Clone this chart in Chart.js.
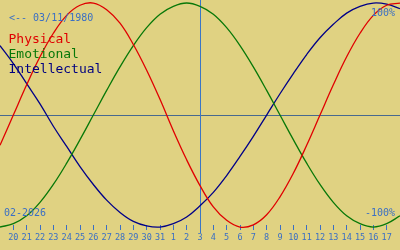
<!DOCTYPE html>
<html>
<head>
<meta charset="utf-8">
<script src="https://cdn.jsdelivr.net/npm/chart.js@4"></script>
<style>
  html, body { margin: 0; padding: 0; }
  body { width: 400px; height: 250px; background: #e0d282; overflow: hidden; }
  #wrap { position: relative; width: 400px; height: 250px; }
  .txt { position: absolute; font-family: "DejaVu Sans Mono", monospace; white-space: pre; }
</style>
</head>
<body>
<div id="wrap">
  <canvas id="bioChart" width="400" height="250"></canvas>
  <div class="txt" style="left:9px; top:12.5px; font-size:10px; line-height:10px; color:#3a6fc4;">&lt;-- 03/11/1980</div>
  <div class="txt" style="left:8.5px; top:32px; font-size:13px; line-height:13px; color:#e00000;">Physical</div>
  <div class="txt" style="left:8.5px; top:47px; font-size:13px; line-height:13px; color:#087808;">Emotional</div>
  <div class="txt" style="left:8.5px; top:62px; font-size:13px; line-height:13px; color:#000080;">Intellectual</div>
  <div class="txt" style="right:5px; top:7.5px; font-size:10px; line-height:10px; color:#3a6fc4;">100%</div>
  <div class="txt" style="right:5px; top:207.5px; font-size:10px; line-height:10px; color:#3a6fc4;">-100%</div>
  <div class="txt" style="left:4px; top:207.5px; font-size:10px; line-height:10px; color:#3a6fc4;">02-2026</div>
</div>
<script>
// dias mostrados (19 ene .. 18 feb)
const dias = ['19', '20', '21', '22', '23', '24', '25', '26', '27', '28', '29', '30', '31',
  '1', '2', '3', '4', '5', '6', '7', '8', '9', '10', '11', '12', '13', '14', '15', '16', '17', '18'];

// valores en %
const fisico = [-27, 0, 27, 52, 73, 89, 98, 100, 94, 82, 63, 40, 14, -14, -40, -63,
  -82, -94, -100, -98, -89, -73, -52, -27, 0, 27, 52, 73, 89, 98, 100];
const emocional = [-100, -97, -90, -78, -62, -43, -22, 0, 22, 43, 62, 78, 90, 97, 100, 97,
  90, 78, 62, 43, 22, 0, -22, -43, -62, -78, -90, -97, -100, -97, -90];
const intelectual = [62, 46, 28, 10, -10, -28, -46, -62, -76, -87, -95, -99, -100, -97, -91, -81,
  -69, -54, -37, -19, 0, 19, 37, 54, 69, 81, 91, 97, 100, 99, 95];

const hoy = 15; // indice del dia actual (3 feb)

const lineasGuia = {
  id: 'lineasGuia',
  beforeDatasetsDraw(chart) {
    const { ctx, scales: { x, y }, chartArea } = chart;
    ctx.save();
    ctx.lineWidth = 1;
    // linea del cero
    const y0 = Math.round(y.getPixelForValue(0)) + 0.5;
    ctx.strokeStyle = '#47698f';
    ctx.beginPath();
    ctx.moveTo(chartArea.left, y0);
    ctx.lineTo(chartArea.right, y0);
    ctx.stroke();
    // linea de hoy
    const xh = Math.round(x.getPixelForValue(hoy)) + 0.5;
    ctx.strokeStyle = '#3a76c6';
    ctx.beginPath();
    ctx.moveTo(xh, 0);
    ctx.lineTo(xh, chartArea.bottom + 8);
    ctx.stroke();
    ctx.restore();
  }
};

function serie(datos, color) {
  return {
    data: datos,
    borderColor: color,
    borderWidth: 1.3,
    pointRadius: 0,
    pointHoverRadius: 0,
    tension: 0.4,
    fill: false,
    clip: false
  };
}

new Chart(document.getElementById('bioChart'), {
  type: 'line',
  data: {
    labels: dias,
    datasets: [
      serie(fisico, '#e00000'),
      serie(emocional, '#087808'),
      serie(intelectual, '#000088')
    ]
  },
  options: {
    responsive: false,
    animation: false,
    layout: { autoPadding: false, padding: { left: 0, right: 0, top: 0, bottom: 4 } },
    plugins: { legend: { display: false }, tooltip: { enabled: false } },
    scales: {
      x: {
        offset: false,
        border: { display: false },
        grid: {
          drawOnChartArea: false,
          tickLength: 5,
          color: (c) => (c.index === 0 || c.index === dias.length - 1 || c.index === hoy) ? 'rgba(0,0,0,0)' : '#3a6fc4'
        },
        ticks: {
          autoSkip: false,
          maxRotation: 0,
          padding: 0,
          color: '#3a6fc4',
          font: { family: 'DejaVu Sans Mono', size: 8.5, lineHeight: 1.88 },
          callback: (v, i) => (i === 0 || i === dias.length - 1) ? '' : dias[i]
        }
      },
      y: {
        display: false,
        min: -98.2,
        max: 102.7
      }
    }
  },
  plugins: [lineasGuia]
});
</script>
</body>
</html>
